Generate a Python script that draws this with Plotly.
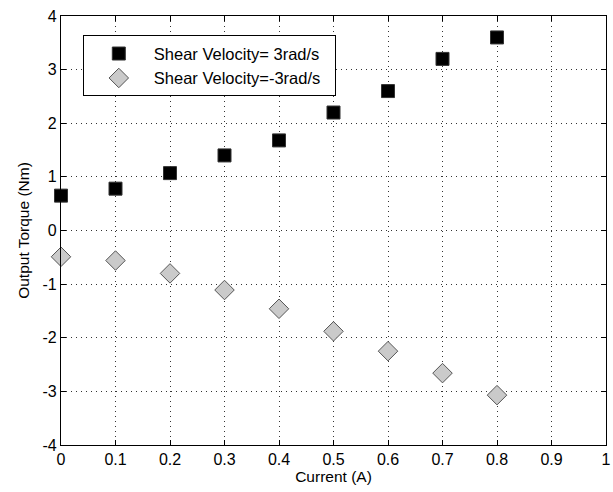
import plotly.graph_objects as go

current = [0, 0.1, 0.2, 0.3, 0.4, 0.5, 0.6, 0.7, 0.8]
torque_pos = [0.65, 0.78, 1.07, 1.40, 1.68, 2.20, 2.60, 3.20, 3.60]
torque_neg = [-0.49, -0.56, -0.80, -1.11, -1.46, -1.88, -2.25, -2.66, -3.07]
x_ticks = [0, 0.1, 0.2, 0.3, 0.4, 0.5, 0.6, 0.7, 0.8, 0.9, 1]
x_tick_labels = ["0", "0.1", "0.2", "0.3", "0.4", "0.5", "0.6", "0.7", "0.8", "0.9", "1"]
y_ticks = [-4, -3, -2, -1, 0, 1, 2, 3, 4]
y_tick_labels = ["-4", "-3", "-2", "-1", "0", "1", "2", "3", "4"]

FONT = "Arial, Liberation Sans, sans-serif"

fig = go.Figure()
fig.add_trace(go.Scatter(
    x=current, y=torque_pos, mode="markers", name="Shear Velocity= 3rad/s\u00a0\u00a0",
    marker=dict(symbol="square", size=13, color="#000000", line=dict(color="#333333", width=1)),
    cliponaxis=False,
))
fig.add_trace(go.Scatter(
    x=current, y=torque_neg, mode="markers", name="Shear Velocity=-3rad/s\u00a0\u00a0",
    marker=dict(symbol="diamond", size=15, color="#cacaca", line=dict(color="#555555", width=1)),
    cliponaxis=False,
))

axis_common = dict(
    showline=True, linecolor="#000000", linewidth=1.2, mirror="ticks",
    ticks="inside", ticklen=5, tickcolor="#000000",
    showgrid=True, gridcolor="#333333", griddash="1px,4px", gridwidth=1.3,
    zeroline=False, automargin=False,
    tickfont=dict(family=FONT, size=16, color="#000000"),
)

fig.update_layout(
    width=613, height=492,
    margin=dict(l=61, r=7, t=16, b=47),
    paper_bgcolor="white", plot_bgcolor="white",
    font=dict(family=FONT, size=15, color="#000000"),
    xaxis=dict(range=[0, 1], tickvals=x_ticks, ticktext=x_tick_labels,
               title=dict(text="Current (A)", standoff=2, font=dict(size=15.5)), **axis_common),
    yaxis=dict(range=[-4, 4], tickvals=y_ticks, ticktext=y_tick_labels,
               title=dict(text="Output Torque (Nm)", standoff=9, font=dict(size=15.5)), **axis_common),
    legend=dict(x=0.04, y=0.955, xanchor="left", yanchor="top",
                bordercolor="#000000", borderwidth=1, bgcolor="white",
                font=dict(family=FONT, size=16.5), itemwidth=60, tracegroupgap=0),
    showlegend=True,
)

fig.write_html("out.html", config={"displayModeBar": False},
               post_script="document.body.style.margin='0';")
